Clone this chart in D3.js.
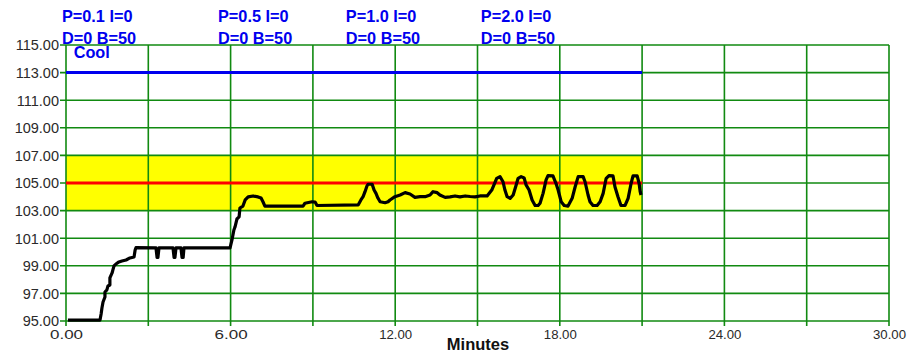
<!DOCTYPE html>
<html><head><meta charset="utf-8">
<script src="https://cdn.jsdelivr.net/npm/d3@7"></script>
<style>body{margin:0;background:#fff}svg{display:block}</style>
</head><body>
<svg id="c" width="910" height="354"></svg>
<script>
const xDomain = [0, 30];
const yDomain = [95, 115];
const xTicks = [0, 6, 12, 18, 24, 30];
const xGrid = [0, 3, 6, 9, 12, 15, 18, 21, 24, 27, 30];
const yTicks = [95, 97, 99, 101, 103, 105, 107, 109, 111, 113, 115];
const bandRange = [103, 107];
const bandEnd = 21;
const setpoint = 105;
const coolLevel = 113;
const annotationTimes = [-0.15, 5.54, 10.2, 15.12];
const annotationLine1 = ["P=0.1 I=0", "P=0.5 I=0", "P=1.0 I=0", "P=2.0 I=0"];
const annotationLine2 = ["D=0 B=50", "D=0 B=50", "D=0 B=50", "D=0 B=50"];
const xTitle = "Minutes";
const coolLabel = "Cool";
const tempTimes = [0.07,1.24,1.28,1.31,1.35,1.42,1.42,1.49,1.53,1.60,1.60,1.68,1.71,1.75,1.82,1.93,2.04,2.19,2.33,2.48,2.52,2.55,
3.28,3.32,3.35,3.39,3.90,3.94,3.97,4.01,4.19,4.23,4.27,4.30,5.98,
6.05,6.12,6.16,6.23,6.31,6.34,6.45,6.53,6.64,6.82,7.00,7.11,7.18,7.25,8.64,8.71,8.97,9.08,9.15,10.65,
10.75,10.83,10.90,10.97,11.01,11.16,11.23,11.30,11.37,11.45,11.63,11.74,11.81,11.99,12.18,12.36,12.54,12.72,12.91,13.09,13.27,13.38,13.53,13.63,13.82,14.00,14.18,14.36,14.55,14.73,14.91,15.09,15.35,
15.52,15.70,15.82,15.93,16.00,16.08,16.19,16.30,16.41,16.48,16.59,16.70,16.77,16.88,16.99,17.10,17.21,17.28,17.39,17.50,17.57,17.75,17.86,17.94,18.05,18.16,18.30,18.45,18.56,18.67,18.85,18.92,19.03,19.10,19.21,19.36,19.47,19.58,19.69,19.80,19.94,20.01,20.12,20.23,20.38,20.49,20.60,20.67,20.82,20.89,20.93,20.96];
const tempValues = [95.07,95.07,95.51,95.94,96.38,96.74,97.10,97.25,97.54,97.61,98.12,98.48,98.70,98.99,99.13,99.28,99.35,99.42,99.57,99.64,100.14,100.31,
100.3,99.6,99.6,100.3,100.3,99.6,99.6,100.3,100.3,99.6,99.6,100.3,100.3,
100.87,101.59,101.81,102.39,102.54,103.19,103.33,103.77,103.99,104.06,103.99,103.91,103.64,103.33,103.33,103.53,103.64,103.62,103.37,103.41,
103.77,104.01,104.37,104.78,104.91,104.91,104.49,104.25,103.91,103.64,103.57,103.64,103.77,104.01,104.13,104.30,104.20,103.96,104.01,104.01,104.13,104.37,104.30,104.13,103.96,103.99,104.06,103.99,104.06,104.02,103.99,104.06,104.06,
104.49,105.34,105.46,105.09,104.49,104.01,103.89,104.13,104.86,105.34,105.46,105.36,104.86,104.49,103.77,103.37,103.37,103.53,104.25,105.22,105.54,105.51,104.98,104.49,103.64,103.37,103.33,103.89,104.73,105.46,105.46,105.09,104.13,103.64,103.37,103.37,103.64,104.25,105.34,105.54,105.51,104.73,104.01,103.37,103.37,103.89,104.98,105.51,105.51,104.98,104.37,104.13];

const svg = d3.select("#c");
const x = d3.scaleLinear().domain(xDomain).range([66, 889]);
const y = d3.scaleLinear().domain(yDomain).range([321, 45]);
const green = "#118a11";
const blue = "#0000ee";
const font = "Arial, 'Liberation Sans', sans-serif";

// band
svg.append("rect")
  .attr("x", x(0)).attr("y", y(bandRange[1]))
  .attr("width", x(bandEnd) - x(0)).attr("height", y(bandRange[0]) - y(bandRange[1]))
  .attr("fill", "#ffff00");

// grid
svg.append("g").selectAll("line").data(yTicks).join("line")
  .attr("x1", x(0) - 6).attr("x2", x(30)).attr("y1", d => y(d)).attr("y2", d => y(d))
  .attr("stroke", green).attr("stroke-width", 1.6);
svg.append("g").selectAll("line").data(xGrid).join("line")
  .attr("x1", d => x(d)).attr("x2", d => x(d)).attr("y1", y(115)).attr("y2", y(95) + 5)
  .attr("stroke", green).attr("stroke-width", 1.6);

// reference lines
svg.append("line").attr("x1", x(0)).attr("x2", x(bandEnd)).attr("y1", y(setpoint)).attr("y2", y(setpoint))
  .attr("stroke", "#ff0000").attr("stroke-width", 3);
svg.append("line").attr("x1", x(0)).attr("x2", x(bandEnd)).attr("y1", y(coolLevel)).attr("y2", y(coolLevel))
  .attr("stroke", blue).attr("stroke-width", 3);

// temperature line
const pts = tempTimes.map((t, i) => [t, tempValues[i]]);
svg.append("path").datum(pts)
  .attr("d", d3.line().x(d => x(d[0])).y(d => y(d[1])))
  .attr("fill", "none").attr("stroke", "#000").attr("stroke-width", 3.2).attr("stroke-linejoin", "round");

// axis labels
const yAxis = d3.axisLeft(y).tickValues(yTicks).tickFormat(d3.format(".2f")).tickSize(0).tickPadding(7);
const gy = svg.append("g").attr("transform", `translate(${x(0)},0)`).call(yAxis);
gy.select(".domain").remove();
gy.selectAll("text").attr("font-family", font).attr("font-size", 14.5).attr("fill", "#2a2a2a").attr("dy", "0.34em");

const xAxis = d3.axisBottom(x).tickValues(xTicks).tickFormat(d3.format(".2f")).tickSize(0).tickPadding(8);
const gx = svg.append("g").attr("transform", `translate(0,${y(95)})`).call(xAxis);
gx.select(".domain").remove();
gx.selectAll("text").attr("font-family", font).attr("font-size", 13.5).attr("fill", "#2a2a2a")
  .attr("textLength", 33).attr("lengthAdjust", "spacingAndGlyphs");

svg.append("text").attr("x", 478).attr("y", 349.5).attr("text-anchor", "middle")
  .attr("font-family", font).attr("font-weight", "bold").attr("font-size", 16.5)
  .attr("fill", "#111").text(xTitle);

// annotations
const ann = svg.append("g").attr("font-family", font).attr("font-weight", "bold")
  .attr("font-size", 16.3).attr("fill", blue);
ann.selectAll("text.l1").data(annotationTimes).join("text").attr("class", "l1")
  .attr("x", d => x(d)).attr("y", 22).text((d, i) => annotationLine1[i]);
ann.selectAll("text.l2").data(annotationTimes).join("text").attr("class", "l2")
  .attr("x", d => x(d)).attr("y", 44).text((d, i) => annotationLine2[i]);
ann.append("text").attr("x", x(0.28)).attr("y", 58).text(coolLabel);
</script>
</body></html>
